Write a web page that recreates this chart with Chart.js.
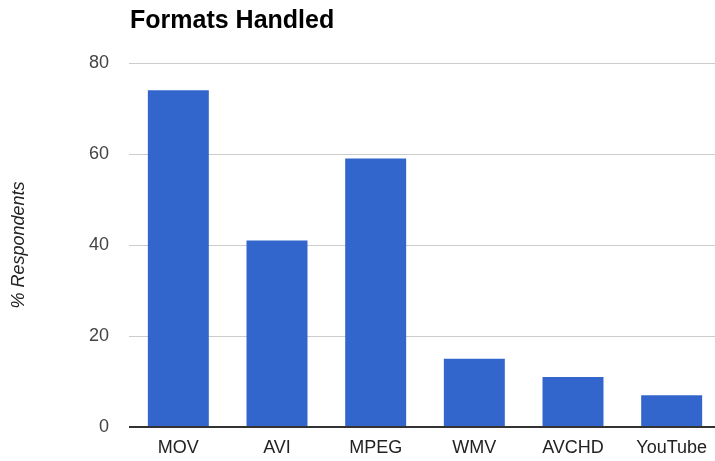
<!DOCTYPE html>
<html>
<head>
<meta charset="utf-8">
<script src="https://cdn.jsdelivr.net/npm/chart.js@4/dist/chart.umd.min.js"></script>
<style>
  html, body { margin: 0; padding: 0; background: #fff; overflow: hidden; }
  canvas { display: block; }
</style>
</head>
<body>
<canvas id="formatsChart" width="721" height="461"></canvas>
<script>
// --- Datos del gráfico ---
const categorias = ['MOV', 'AVI', 'MPEG', 'WMV', 'AVCHD', 'YouTube'];
const porcentajes = [74, 41, 59, 15, 11, 7];
const marcasEje = [0, 20, 40, 60, 80];
const tituloGrafico = 'Formats Handled';
const tituloEjeY = '% Respondents';

Chart.defaults.font.family = '"Liberation Sans", Arial, sans-serif';

// Título alineado con el borde izquierdo del área de datos
const tituloPlugin = {
    id: 'tituloIzquierda',
    afterDraw(chart) {
        const ctx = chart.ctx;
        ctx.save();
        ctx.font = 'bold 25px "Liberation Sans", Arial, sans-serif';
        ctx.fillStyle = '#000';
        ctx.textAlign = 'left';
        ctx.textBaseline = 'alphabetic';
        ctx.fillText(tituloGrafico, chart.chartArea.left + 1, 28);
        ctx.restore();
    }
};

new Chart(document.getElementById('formatsChart').getContext('2d'), {
    type: 'bar',
    data: {
        labels: categorias,
        datasets: [{
            data: porcentajes,
            backgroundColor: '#3366cc',
            borderWidth: 0,
            categoryPercentage: 1,
            barPercentage: 0.618
        }]
    },
    options: {
        responsive: false,
        devicePixelRatio: 1,
        animation: false,
        layout: { padding: { top: 63, right: 0, bottom: 0, left: 0 } },
        plugins: {
            legend: { display: false },
            tooltip: { enabled: false },
            title: { display: false }
        },
        scales: {
            x: {
                grid: { display: false, drawTicks: false },
                border: { display: false },
                ticks: { color: '#222', font: { size: 18 }, padding: 10, maxRotation: 0 },
                afterFit: (scale) => { scale.height = 34; }
            },
            y: {
                min: 0,
                max: 80,
                afterBuildTicks: (scale) => { scale.ticks = marcasEje.map(v => ({ value: v })); },
                grid: {
                    drawTicks: false,
                    color: (c) => c.tick && c.tick.value === 0 ? '#333' : '#ccc',
                    lineWidth: (c) => c.tick && c.tick.value === 0 ? 2 : 1
                },
                border: { display: false },
                ticks: { color: '#444', font: { size: 18 }, padding: 20 },
                title: {
                    display: true,
                    text: tituloEjeY,
                    color: '#222',
                    font: { size: 18, style: 'italic' },
                    padding: { top: 8, bottom: 0 }
                },
                afterFit: (scale) => { scale.width = 129; }
            }
        }
    },
    plugins: [tituloPlugin]
});
</script>
</body>
</html>
